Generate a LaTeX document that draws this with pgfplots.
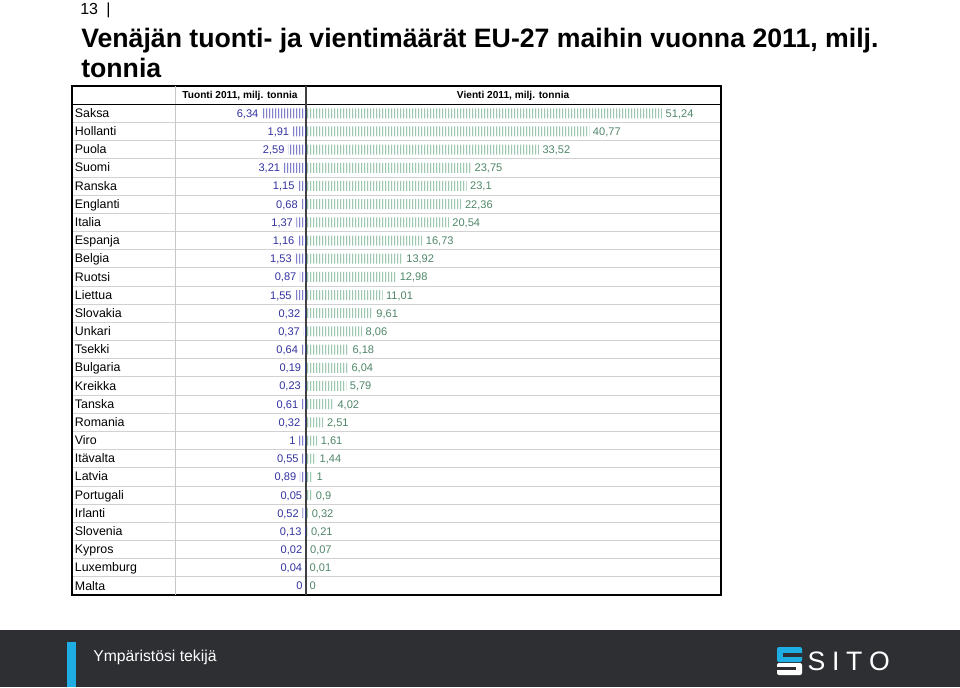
\documentclass[border=0pt]{standalone}
\usepackage{pgfplots}
\pgfplotsset{compat=1.18}
\usepackage{pgfplotstable}
\usepackage{fontspec}
\setmainfont{Liberation Sans}
\usetikzlibrary{patterns.meta}

\definecolor{imptext}{RGB}{50,50,160}
\definecolor{imppat}{RGB}{60,60,175}
\definecolor{exptext}{RGB}{80,135,105}
\definecolor{exppat}{RGB}{105,170,135}
\definecolor{footer}{RGB}{45,47,51}
\definecolor{sitoblue}{RGB}{30,174,227}

\tikzdeclarepattern{
  name=vlinesA,
  type=uncolored,
  bottom left={(0pt,0pt)},
  top right={(1.95pt,20pt)},
  tile size={(1.95pt,20pt)},
  code={\fill (0.3pt,-0.5pt) rectangle (1.0pt,20.5pt);}
}

\pgfplotstableread{
idx name imp exp
0 Saksa 6.34 51.24
1 Hollanti 1.91 40.77
2 Puola 2.59 33.52
3 Suomi 3.21 23.75
4 Ranska 1.15 23.1
5 Englanti 0.68 22.36
6 Italia 1.37 20.54
7 Espanja 1.16 16.73
8 Belgia 1.53 13.92
9 Ruotsi 0.87 12.98
10 Liettua 1.55 11.01
11 Slovakia 0.32 9.61
12 Unkari 0.37 8.06
13 Tsekki 0.64 6.18
14 Bulgaria 0.19 6.04
15 Kreikka 0.23 5.79
16 Tanska 0.61 4.02
17 Romania 0.32 2.51
18 Viro 1 1.61
19 Itävalta 0.55 1.44
20 Latvia 0.89 1
21 Portugali 0.05 0.9
22 Irlanti 0.52 0.32
23 Slovenia 0.13 0.21
24 Kypros 0.02 0.07
25 Luxemburg 0.04 0.01
26 Malta 0 0
}\datatable

\begin{document}
\begin{tikzpicture}
\path[use as bounding box, fill=white] (0,0) rectangle (720pt,-515.25pt);

% page number and title
\node[anchor=base west, inner sep=0pt, font=\fontsize{12}{14}\selectfont] at (60pt,-11pt) {13};
\node[anchor=base west, inner sep=0pt, font=\fontsize{12}{14}\selectfont] at (79.5pt,-11pt) {|};
\node[anchor=base west, inner sep=0pt, font=\bfseries\fontsize{20}{23}\selectfont] at (60.75pt,-35.25pt) {Venäjän tuonti- ja vientimäärät EU-27 maihin vuonna 2011, milj.};
\node[anchor=base west, inner sep=0pt, font=\bfseries\fontsize{20}{23}\selectfont] at (60.75pt,-57.75pt) {tonnia};

% footer
\fill[footer] (0,-472.5pt) rectangle (720pt,-515.25pt);
\fill[sitoblue] (50.25pt,-481.5pt) rectangle (57pt,-515.25pt);
\node[anchor=west, inner sep=0pt, text=white, font=\fontsize{11.8}{13}\selectfont] at (69.75pt,-492.75pt) {Ympäristösi tekijä};
\fill[sitoblue, rounded corners=1.5pt] (582.75pt,-485.25pt) rectangle (601.5pt,-496.5pt);
\fill[white, rounded corners=1.5pt] (582.75pt,-497.25pt) rectangle (601.5pt,-506.25pt);
\fill[footer] (587pt,-489.5pt) rectangle (601.5pt,-492.5pt);
\fill[footer] (582.75pt,-500pt) rectangle (597pt,-502.5pt);
\node[anchor=west, inner sep=0pt, text=white, font=\fontsize{20}{22}\selectfont] at (605.5pt,-495.75pt) {S\hspace{5pt}I\hspace{5pt}T\hspace{5pt}O};

\begin{axis}[
  at={(54pt,-64.5pt)}, anchor=north west,
  scale only axis, width=486.75pt, height=381.75pt,
  xmin=-33.67, xmax=59.71, ymin=-1.5, ymax=26.5, y dir=reverse,
  xtick=\empty,
  ytick={0,...,26},
  yticklabels from table={\datatable}{name},
  yticklabel style={anchor=west, font=\fontsize{9.3}{11}\selectfont, inner sep=2pt, text height=7pt, text depth=2pt, yshift=-0.6pt},
  major tick length=0pt,
  minor ytick={0.5,1.5,...,25.5},
  yminorgrids,
  minor grid style={black!18, line width=0.6pt},
  minor tick length=0pt,
  axis line style={black, line width=0.8pt},
  clip=false,
  point meta=explicit,
  nodes near coords={\pgfmathprintnumber[fixed, precision=2, use comma, assume math mode=true]{\pgfplotspointmeta}},
]
\draw[black!22, line width=0.6pt] (axis cs:-18.85,-1.5) -- (axis cs:-18.85,26.5);
\draw[black, line width=0.8pt] (axis cs:-33.67,-0.5) -- (axis cs:59.71,-0.5);
\draw[black!75, line width=1.1pt] (axis cs:0,-1.5) -- (axis cs:0,26.5);
\node[font=\bfseries\fontsize{7.6}{9}\selectfont] at (axis cs:-9.5,-0.95) {Tuonti 2011, milj. tonnia};
\node[font=\bfseries\fontsize{7.6}{9}\selectfont] at (axis cs:29.8,-0.95) {Vienti 2011, milj. tonnia};

\addplot[xbar, bar shift=0pt, bar width=7.5pt, draw=none, pattern=vlinesA, pattern color=imppat,
  every node near coord/.append style={anchor=east, text=imptext, font=\fontsize{8.3}{10}\selectfont, inner sep=2.5pt, text height=6pt, text depth=1pt, yshift=-0.5pt}]
  table[x expr=-\thisrow{imp}, y=idx, meta=imp]{\datatable};
\addplot[xbar, bar shift=0pt, bar width=7.5pt, draw=none, pattern=vlinesA, pattern color=exppat,
  every node near coord/.append style={anchor=west, text=exptext, font=\fontsize{8.3}{10}\selectfont, inner sep=2.5pt, text height=6pt, text depth=1pt, yshift=-0.5pt}]
  table[x=exp, y=idx, meta=exp]{\datatable};
\end{axis}
\end{tikzpicture}
\end{document}
